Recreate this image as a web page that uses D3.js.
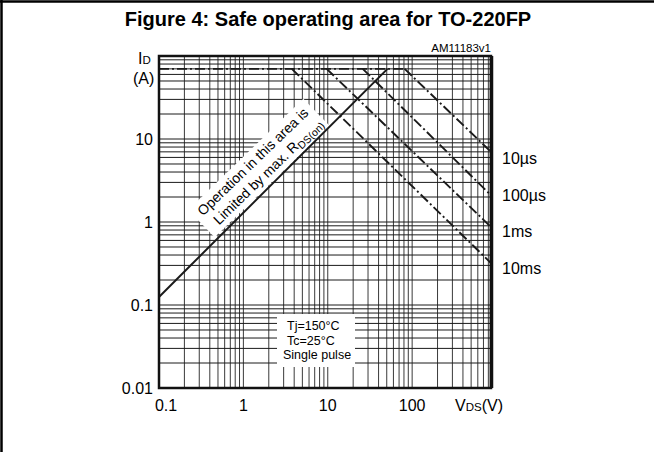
<!DOCTYPE html>
<html><head><meta charset="utf-8">
<script src="https://cdn.jsdelivr.net/npm/d3@7"></script>
<style>body{margin:0;background:#fff}svg{display:block;font-family:"Liberation Sans",Arial,sans-serif}</style>
</head><body>
<svg id="c" width="654" height="452"></svg>
<script>
// ---- data ----
const xTickValues = [0.1, 1, 10, 100];
const xTickLabels = ["0.1", "1", "10", "100"];
const yTickValues = [0.01, 0.1, 1, 10];
const yTickLabels = ["0.01", "0.1", "1", "10"];
const xDomain = [0.1, 860];
const yDomain = [0.01, 100];
const iMax = 70;                       // plateau current (A)
const rdsV = [0.1, 51];                // Rds(on) limit line, VDS
const rdsI = [0.125, 70];              // Rds(on) limit line, ID
const pulseNames = ["10µs", "100µs", "1ms", "10ms"];
const pulseKneeV = [81.5, 26, 9.7, 3.75];   // where each curve leaves the plateau
const pulseEndV = [860, 860, 860, 860];
const pulseEndI = [7.0, 2.1, 0.87, 0.32];
const conditions = ["Tj=150°C", "Tc=25°C", "Single pulse"];

// ---- drawing ----
const svg = d3.select("#c");
const L = 159, R = 491, T = 56, B = 388;
const x = d3.scaleLog().domain(xDomain).range([L, R]);
const y = d3.scaleLog().domain(yDomain).range([B, T]);

// outer frame (left + top)
svg.append("line").attr("x1",1.5).attr("x2",1.5).attr("y1",0).attr("y2",452).attr("stroke","#000").attr("stroke-width",2.5);
svg.append("line").attr("x1",0).attr("x2",654).attr("y1",1.5).attr("y2",1.5).attr("stroke","#000").attr("stroke-width",2.5);

svg.append("text").attr("x",328).attr("y",26).attr("text-anchor","middle")
  .attr("font-weight","bold").attr("font-size",20).text("Figure 4: Safe operating area for TO-220FP");
svg.append("text").attr("x",491).attr("y",52).attr("text-anchor","end")
  .attr("font-size",11.5).text("AM11183v1");

// grid
const xGrid = [], yGrid = [];
for (let e = -1; e <= 2; e++) for (let k = 1; k <= 9; k++) { const v = k * Math.pow(10, e); if (v > xDomain[0] && v < xDomain[1]) xGrid.push(v); }
for (let e = -2; e <= 1; e++) for (let k = 1; k <= 9; k++) { const v = k * Math.pow(10, e); if (v > yDomain[0] && v < yDomain[1]) yGrid.push(v); }
const g = svg.append("g");
g.selectAll("line.vx").data(xGrid).join("line").attr("class","vx")
  .attr("x1",d=>x(d)).attr("x2",d=>x(d)).attr("y1",T).attr("y2",B)
  .attr("stroke","#3a3a3a").attr("stroke-width",1);
g.selectAll("line.hy").data(yGrid).join("line").attr("class","hy")
  .attr("x1",L).attr("x2",R).attr("y1",d=>y(d)).attr("y2",d=>y(d))
  .attr("stroke","#1a1a1a").attr("stroke-width",1);

// conditions box
svg.append("rect").attr("x",277).attr("y",314).attr("width",78).attr("height",53).attr("fill","#fff");
svg.selectAll("text.cond").data(conditions).join("text").attr("class","cond")
  .attr("x",(d,i)=> i===2 ? 283 : 287).attr("y",(d,i)=>330 + i*14.5)
  .attr("font-size",12.5).text(d=>d);

// lines
const line = d3.line().x(d=>x(d[0])).y(d=>y(d[1]));
const dash = "10,3,2,3";
svg.append("path").attr("d", line([[xDomain[0], iMax], [pulseKneeV[0], iMax]]))
  .attr("fill","none").attr("stroke","#1a1a1a").attr("stroke-width",1.8).attr("stroke-dasharray",dash);
pulseNames.forEach((n,i)=>{
  svg.append("path").attr("d", line([[pulseKneeV[i], iMax], [pulseEndV[i], pulseEndI[i]]]))
    .attr("fill","none").attr("stroke","#1a1a1a").attr("stroke-width",1.9).attr("stroke-dasharray",dash);
});

// annotation (white band + rotated text)
const ann = svg.append("g").attr("transform","translate(259,168) rotate(-44)");
ann.append("rect").attr("x",-80).attr("y",-19).attr("width",160).attr("height",38).attr("fill","#fff");
ann.append("text").attr("x",0).attr("y",-4).attr("text-anchor","middle").attr("font-size",14).text("Operation in this area is");
const t2 = ann.append("text").attr("x",4).attr("y",13.5).attr("text-anchor","middle").attr("font-size",14);
t2.append("tspan").text("Limited by max. R");
t2.append("tspan").attr("font-size",10.5).attr("dy",3).text("DS(on)");

svg.append("path").attr("d", line(rdsV.map((v,i)=>[v, rdsI[i]])))
  .attr("fill","none").attr("stroke","#1a1a1a").attr("stroke-width",2);

// frame
svg.append("rect").attr("x",L).attr("y",T).attr("width",R-L).attr("height",B-T)
  .attr("fill","none").attr("stroke","#111").attr("stroke-width",2.5);
svg.append("line").attr("x1",R+0.5).attr("x2",R+0.5).attr("y1",T).attr("y2",B).attr("stroke","#111").attr("stroke-width",3.5);

// tick labels
svg.selectAll("text.xt").data(xTickValues).join("text").attr("class","xt")
  .attr("x",(d,i)=> x(d) + (i===0 ? 7 : 0)).attr("y",411).attr("text-anchor","middle")
  .attr("font-size",16).text((d,i)=>xTickLabels[i]);
svg.selectAll("text.yt").data(yTickValues).join("text").attr("class","yt")
  .attr("x",153).attr("y",d=>y(d)+6).attr("text-anchor","end")
  .attr("font-size",16).text((d,i)=>yTickLabels[i]);

// axis titles
const xt = svg.append("text").attr("x",455).attr("y",411).attr("font-size",16);
xt.append("tspan").text("V");
xt.append("tspan").attr("font-size",11.5).text("DS");
xt.append("tspan").text("(V)");
const yt = svg.append("text").attr("x",138).attr("y",64).attr("font-size",16);
yt.append("tspan").text("I");
yt.append("tspan").attr("font-size",11.5).text("D");
svg.append("text").attr("x",133).attr("y",84).attr("font-size",16).text("(A)");

// pulse labels
svg.selectAll("text.pl").data(pulseNames).join("text").attr("class","pl")
  .attr("x",502).attr("y",(d,i)=>164 + i*36.7).attr("font-size",16).text(d=>d);
</script>
</body></html>
